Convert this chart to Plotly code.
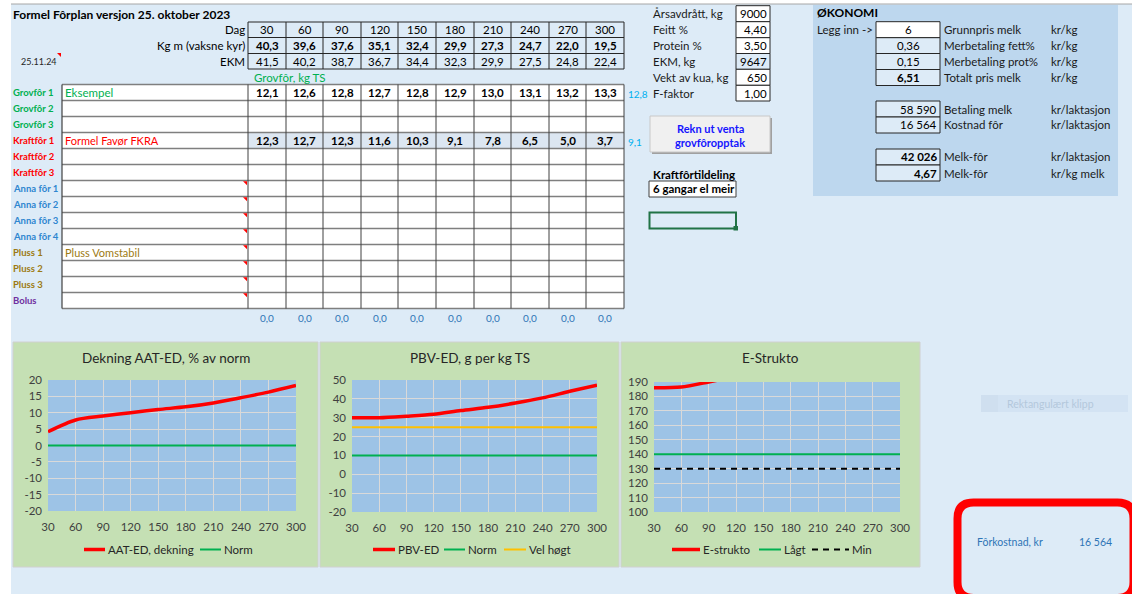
import plotly.graph_objects as go

W, H = 1132, 594
FONT = "Lato"

# ---------------- data ----------------
days = [30, 60, 90, 120, 150, 180, 210, 240, 270, 300]
kg_milk = [40.3, 39.6, 37.6, 35.1, 32.4, 29.9, 27.3, 24.7, 22.0, 19.5]
ekm_day = [41.5, 40.2, 38.7, 36.7, 34.4, 32.3, 29.9, 27.5, 24.8, 22.4]
grovfor1 = [12.1, 12.6, 12.8, 12.7, 12.8, 12.9, 13.0, 13.1, 13.2, 13.3]
kraftfor1 = [12.3, 12.7, 12.3, 11.6, 10.3, 9.1, 7.8, 6.5, 5.0, 3.7]
grovfor1_avg = 12.8
kraftfor1_avg = 9.1
col_totals = [0.0, 0.0, 0.0, 0.0, 0.0, 0.0, 0.0, 0.0, 0.0, 0.0]

row_labels = ["Grovfôr 1", "Grovfôr 2", "Grovfôr 3", "Kraftfôr 1", "Kraftfôr 2",
              "Kraftfôr 3", "Anna fôr 1", "Anna fôr 2", "Anna fôr 3", "Anna fôr 4",
              "Pluss 1", "Pluss 2", "Pluss 3", "Bolus"]
row_names = ["Eksempel", "", "", "Formel Favør FKRA", "", "", "", "", "", "",
             "Pluss Vomstabil", "", "", ""]

farm_labels = ["Årsavdrått, kg", "Feitt %", "Protein %", "EKM, kg", "Vekt av kua, kg", "F-faktor"]
farm_values = ["9000", "4,40", "3,50", "9647", "650", "1,00"]

econ_labels = ["Grunnpris melk", "Merbetaling fett%", "Merbetaling prot%", "Totalt pris melk",
               "Betaling melk", "Kostnad fôr", "Melk-fôr", "Melk-fôr"]
econ_values = ["6", "0,36", "0,15", "6,51", "58 590", "16 564", "42 026", "4,67"]
econ_units = ["kr/kg", "kr/kg", "kr/kg", "kr/kg", "kr/laktasjon", "kr/laktasjon",
              "kr/laktasjon", "kr/kg melk"]

feed_cost = "16 564"

aat_ed = [4.2, 7.8, 9.0, 10.0, 11.0, 11.8, 13.0, 14.6, 16.3, 18.3]
aat_norm = [0, 0, 0, 0, 0, 0, 0, 0, 0, 0]
pbv_ed = [30.0, 30.0, 30.8, 31.8, 33.8, 35.5, 37.8, 40.5, 44.0, 47.3]
pbv_norm = [10, 10, 10, 10, 10, 10, 10, 10, 10, 10]
pbv_high = [25, 25, 25, 25, 25, 25, 25, 25, 25, 25]
e_strukto = [186, 186.5, 190, 194, 198, 203, 208, 214, 220, 227]
strukto_low = [140, 140, 140, 140, 140, 140, 140, 140, 140, 140]
strukto_min = [130, 130, 130, 130, 130, 130, 130, 130, 130, 130]

aat_ticks = [-20, -15, -10, -5, 0, 5, 10, 15, 20]
pbv_ticks = [-20, -10, 0, 10, 20, 30, 40, 50]
strukto_ticks = [100, 110, 120, 130, 140, 150, 160, 170, 180, 190]

# ---------------- helpers ----------------
def X(x):
    return x / W

def Y(y):
    return 1 - y / H

shapes = []
annotations = []

def rect(x0, y0, x1, y1, fill=None, line=None, width=1, layer="below"):
    shapes.append(dict(type="rect", xref="paper", yref="paper",
                       x0=X(x0), x1=X(x1), y0=Y(y1), y1=Y(y0),
                       fillcolor=fill if fill else "rgba(0,0,0,0)",
                       line=dict(color=line if line else "rgba(0,0,0,0)", width=width if line else 0),
                       layer=layer))

def hline(x0, x1, y, color="#404040", width=1, dash="solid", layer="below"):
    shapes.append(dict(type="line", xref="paper", yref="paper",
                       x0=X(x0), x1=X(x1), y0=Y(y), y1=Y(y),
                       line=dict(color=color, width=width, dash=dash), layer=layer))

def vline(x, y0, y1, color="#404040", width=1, layer="below"):
    shapes.append(dict(type="line", xref="paper", yref="paper",
                       x0=X(x), x1=X(x), y0=Y(y0), y1=Y(y1),
                       line=dict(color=color, width=width), layer=layer))

def tri(x, y, s=4, color="#FF0000"):
    path = f"M {X(x - s)},{Y(y)} L {X(x)},{Y(y)} L {X(x)},{Y(y + s)} Z"
    shapes.append(dict(type="path", xref="paper", yref="paper", path=path,
                       fillcolor=color, line=dict(width=0), layer="above"))

def text(x, y, s, size=11, color="#000000", bold=False, anchor="left"):
    if bold:
        s = "<b>" + s + "</b>"
    annotations.append(dict(x=X(x), y=Y(y), xref="paper", yref="paper", text=s,
                            showarrow=False, xanchor=anchor, yanchor="middle",
                            borderpad=0, font=dict(family=FONT, size=size, color=color)))

def f1(v):
    return f"{v:.1f}".replace(".", ",")

# ---------------- background ----------------
PAGE = "#DDEBF7"
rect(11, 4, W, H, fill=PAGE)
hline(11, W, 4, color="#A6A6A6", width=1)

# title & date
text(12, 14, "Formel Fôrplan versjon 25. oktober 2023", size=12, bold=True)
text(20, 62, "25.11.24", size=9, color="#262626")
tri(61, 53)

# ---------------- header table ----------------
cols = [248, 286, 323, 361, 398, 436, 474, 511, 549, 586, 624]
centers = [(cols[i] + cols[i + 1]) / 2 for i in range(10)]
hdr_rows = [22, 37.5, 53.5, 69]
for yy in hdr_rows:
    hline(cols[0], cols[-1], yy, color="#262626", width=1)
for xx in cols:
    vline(xx, hdr_rows[0], hdr_rows[-1], color="#262626", width=1)
text(246, 30, "Dag", size=11.5, anchor="right")
text(246, 45.5, "Kg m (vaksne kyr)", size=11.5, anchor="right")
text(246, 61.5, "EKM", size=11.5, anchor="right")
for i in range(10):
    text(centers[i], 30, str(days[i]), size=11.5, anchor="center")
    text(centers[i], 45.5, f1(kg_milk[i]), size=11.5, bold=True, anchor="center")
    text(centers[i], 61.5, f1(ekm_day[i]), size=11.5, anchor="center")

text(290, 77, "Grovfôr, kg TS", size=11.5, color="#00B050", anchor="center")

# ---------------- main table ----------------
top, rh = 84.5, 16.0
nrows = len(row_labels)
bottom = top + rh * nrows
rect(62, top, cols[-1], bottom, fill="#FFFFFF")
rect(cols[0], top + 3 * rh, cols[-1], top + 4 * rh, fill="#DCE6F1")
for r in range(nrows + 1):
    hline(62, cols[-1], top + r * rh, color="#7F7F7F", width=1.5)
vline(62, top, bottom, color="#404040", width=1.2)
for xx in cols:
    vline(xx, top, bottom, color="#404040", width=1)

label_colors = {"Grovfôr": "#00B050", "Kraftfôr": "#FF0000", "Anna fôr": "#2E86D0",
                "Pluss": "#9C7A12", "Bolus": "#7030A0"}
name_colors = ["#00B050", None, None, "#FF0000", None, None, None, None, None, None,
               "#9C7A12", None, None, None]
for r, lab in enumerate(row_labels):
    cy = top + r * rh + rh / 2
    key = [k for k in label_colors if lab.startswith(k)][0]
    text(12, cy, lab, size=9.5, color=label_colors[key], bold=True)
    if row_names[r]:
        text(64, cy, row_names[r], size=11.5 if r == 0 else 11, color=name_colors[r],
             bold=False)
    if r >= 6:
        tri(247, top + r * rh + 0.8)

for i in range(10):
    text(centers[i], top + rh / 2, f1(grovfor1[i]), size=11.5, bold=True, anchor="center")
    text(centers[i], top + 3 * rh + rh / 2, f1(kraftfor1[i]), size=11.5, bold=True, anchor="center")
    text(centers[i], 318, f1(col_totals[i]), size=10, color="#2E75B6", anchor="center")
text(627, top + rh / 2 + 1, f1(grovfor1_avg), size=10, color="#00B0F0")
text(627, top + 3 * rh + rh / 2 + 1, f1(kraftfor1_avg), size=10, color="#00B0F0")

# ---------------- farm inputs ----------------
ftops = [5.7, 21.7, 37.7, 53.5, 69.3, 85.3, 101]
for i, lab in enumerate(farm_labels):
    y0, y1 = ftops[i], ftops[i + 1]
    rect(736, y0, 770, y1, fill="#FFFFFF" if i != 3 else PAGE, line="#262626", width=1)
    text(652, (y0 + y1) / 2, lab, size=11.5, color="#1A1A1A")
    text(768, (y0 + y1) / 2, farm_values[i], size=11.5, anchor="right")

# button
rect(652, 118, 772, 154, fill="#A0A0A0")
rect(650, 116, 770, 152, fill="#F0F0F0", line="#C8C8C8", width=1)
text(710, 128, "Rekn ut venta", size=11, color="#1515FF", bold=True, anchor="center")
text(710, 142, "grovfôropptak", size=11, color="#1515FF", bold=True, anchor="center")

text(652, 174, "Kraftfôrtildeling", size=11.5, bold=True)
rect(649, 181, 736, 197, fill="#FFFFFF", line="#404040", width=1)
text(652, 189, "6 gangar el meir", size=11.5, bold=True)

rect(649.5, 212.5, 736, 228.5, line="#217346", width=2)
rect(733.5, 226, 738, 230.5, fill="#217346")

# ---------------- economy ----------------
rect(813, 5, 1118, 196, fill="#BDD7EE")
text(816, 13, "ØKONOMI", size=12, bold=True)
text(816, 30, "Legg inn ->", size=11.5, color="#1A1A1A")
etops = [(21.7, 37.7), (37.7, 53.5), (53.5, 69.5), (69.5, 85.5),
         (101, 117), (117, 133), (149, 165), (165, 181)]
for i, (y0, y1) in enumerate(etops):
    rect(876, y0, 940, y1, fill="#FFFFFF" if i == 0 else PAGE, line="#262626", width=1)
    cy = (y0 + y1) / 2
    bold = i in (3, 6, 7)
    if i < 4:
        text(908, cy, econ_values[i], size=11.5, bold=bold, anchor="center")
    else:
        text(938, cy, econ_values[i], size=11.5, bold=bold, anchor="right")
    text(943, cy, econ_labels[i], size=11.5, color="#1A1A1A")
    text(1050, cy, econ_units[i], size=11.5, color="#1A1A1A")

# faded "Rektangulært klipp"
rect(981, 395, 1128, 412, fill="#D3E3F3")
rect(981, 395, 998, 412, fill="#CFDFEF")
text(1006, 404, "Rektangulært klipp", size=10.5, color="#B3C8DC")

# red rounded frame (runs off the right and bottom edges)
x0, y0, x1, y1, rr = 957.5, 502.5, 1133.5, 598, 16
path = (f"M {X(x0 + rr)},{Y(y0)} L {X(x1 - rr)},{Y(y0)} Q {X(x1)},{Y(y0)} {X(x1)},{Y(y0 + rr)} "
        f"L {X(x1)},{Y(y1 - rr)} Q {X(x1)},{Y(y1)} {X(x1 - rr)},{Y(y1)} "
        f"L {X(x0 + rr)},{Y(y1)} Q {X(x0)},{Y(y1)} {X(x0)},{Y(y1 - rr)} "
        f"L {X(x0)},{Y(y0 + rr)} Q {X(x0)},{Y(y0)} {X(x0 + rr)},{Y(y0)} Z")
shapes.append(dict(type="path", xref="paper", yref="paper", path=path,
                   line=dict(color="#FF0000", width=8), layer="above"))
text(976, 542, "Fôrkostnad, kr", size=10.5, color="#2E75B6")
text(1113, 542, feed_cost, size=10.5, color="#2E75B6", anchor="right")

# ---------------- charts ----------------
panels = [(13, 318), (320, 619), (621, 920)]
plots = [(48, 296, 380, 511), (352, 597, 380, 512), (654, 900, 382, 512)]
titles = ["Dekning AAT-ED, % av norm", "PBV-ED, g per kg TS", "E-Strukto"]
for (px0, px1), (a0, a1, b0, b1), ttl in zip(panels, plots, titles):
    rect(px0, 342, px1, 567, fill="#C5E0B4", line="#D0D0D0", width=1)
    rect(a0, b0, a1, b1, fill="#9DC3E6")
    text((px0 + px1) / 2, 358, ttl, size=13.5, color="#262626", anchor="center")

fig = go.Figure()
RED = "#FF0000"
GREEN = "#00B050"
YEL = "#FFC000"

def add(xa, ya, yv, color, width, dash="solid", spline=False):
    fig.add_trace(go.Scatter(x=days, y=yv, mode="lines", xaxis=xa, yaxis=ya,
                             line=dict(color=color, width=width, dash=dash,
                                       shape="spline" if spline else "linear", smoothing=0.8),
                             showlegend=False, hoverinfo="skip"))

add("x", "y", aat_norm, GREEN, 2)
add("x", "y", aat_ed, RED, 3.5, spline=True)
add("x2", "y2", pbv_norm, GREEN, 2)
add("x2", "y2", pbv_high, YEL, 2)
add("x2", "y2", pbv_ed, RED, 3.5, spline=True)
add("x3", "y3", strukto_low, GREEN, 2)
add("x3", "y3", strukto_min, "#000000", 2, dash="6px,5px")
add("x3", "y3", e_strukto, RED, 3.5, spline=True)

tickfont = dict(family=FONT, size=11.5, color="#404040")

def xax(dom, anchor):
    return dict(domain=[X(dom[0]), X(dom[1])], anchor=anchor, range=[30, 300],
                tickmode="array", tickvals=days, ticktext=[str(d) for d in days],
                showgrid=True, gridcolor="#D9D9D9", gridwidth=1, zeroline=False,
                showline=False, ticks="", tickfont=tickfont, fixedrange=True,
                ticklabelstandoff=7, automargin=False)

def yax(dom, anchor, ticks):
    return dict(domain=[Y(dom[1]), Y(dom[0])], anchor=anchor, range=[ticks[0], ticks[-1]],
                tickmode="array", tickvals=ticks, ticktext=[str(t) for t in ticks],
                showgrid=True, gridcolor="#D9D9D9", gridwidth=1,
                zeroline=False, showline=False, ticks="", tickfont=tickfont,
                fixedrange=True, ticklabelstandoff=5, automargin=False)

layout = dict(
    width=W, height=H, autosize=False,
    margin=dict(l=0, r=0, t=0, b=0, pad=0, autoexpand=False),
    paper_bgcolor="#FFFFFF", plot_bgcolor="rgba(0,0,0,0)",
    xaxis=xax((plots[0][0], plots[0][1]), "y"),
    yaxis=yax((plots[0][2], plots[0][3]), "x", aat_ticks),
    xaxis2=xax((plots[1][0], plots[1][1]), "y2"),
    yaxis2=yax((plots[1][2], plots[1][3]), "x2", pbv_ticks),
    xaxis3=xax((plots[2][0], plots[2][1]), "y3"),
    yaxis3=yax((plots[2][2], plots[2][3]), "x3", strukto_ticks),
)

# legends (drawn manually to match spreadsheet-style legend)
def leg(xl0, xl1, color, width, label, dash="solid"):
    hline(xl0, xl1, 549.5, color=color, width=width, dash=dash, layer="above")
    text(xl1 + 1.5, 549.5, label, size=11.5, color="#262626")

leg(84, 105, RED, 3.5, "AAT-ED, dekning")
leg(200, 221, GREEN, 2, "Norm")
leg(373, 395, RED, 3.5, "PBV-ED")
leg(444, 465, GREEN, 2, "Norm")
leg(504, 526, YEL, 2, "Vel høgt")
leg(672, 700, RED, 3.5, "E-strukto")
leg(759, 781, GREEN, 2, "Lågt")
leg(812, 849, "#000000", 2, "Min", dash="6px,5px")

layout["shapes"] = shapes
layout["annotations"] = annotations
fig.update_layout(**layout)
fig.write_html("out.html", config={"displayModeBar": False},
               post_script="document.body.style.margin='0';document.body.style.overflow='hidden';")
